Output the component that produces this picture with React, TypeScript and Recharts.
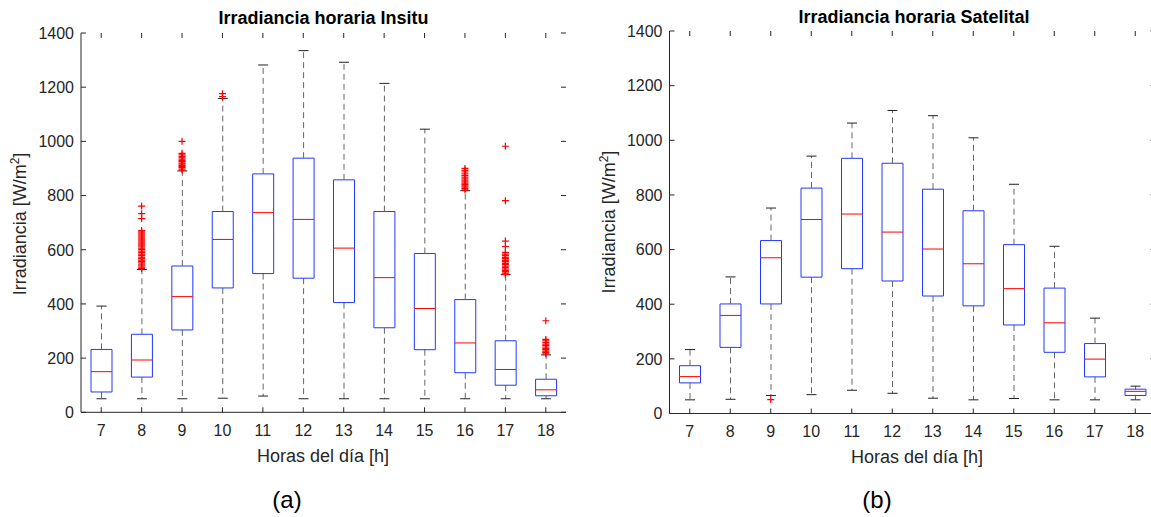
import { Bar, ComposedChart, Line, XAxis, YAxis } from "recharts";

const hours = ["7", "8", "9", "10", "11", "12", "13", "14", "15", "16", "17", "18"];
const yTicks = [0, 200, 400, 600, 800, 1000, 1200, 1400];

// (a) Insitu
const insituMin = [50, 50, 50, 52, 60, 50, 50, 50, 50, 50, 50, 50];
const insituQ1 = [75, 130, 304, 459, 512, 495, 405, 312, 231, 146, 100, 61];
const insituMed = [150, 193, 427, 638, 737, 712, 606, 497, 383, 256, 158, 83];
const insituQ3 = [232, 288, 540, 741, 880, 938, 858, 741, 586, 416, 264, 122];
const insituMax = [392, 527, 891, 1158, 1282, 1335, 1292, 1214, 1045, 818, 508, 212];
const insituOutliers: number[][] = [
  [],
  [531, 536, 541, 547, 552, 557, 562, 568, 573, 579, 584, 590, 595, 601, 606, 611, 617, 622, 628, 633, 639, 644, 650, 655, 661, 666, 671, 715, 733, 761],
  [894, 898, 903, 907, 911, 916, 920, 925, 929, 934, 939, 944, 950, 956, 1000],
  [1165, 1176],
  [],
  [],
  [],
  [],
  [],
  [821, 826, 831, 836, 841, 846, 851, 857, 862, 868, 874, 880, 887, 893, 900],
  [509, 514, 519, 524, 529, 534, 539, 545, 550, 556, 561, 567, 572, 578, 584, 590, 612, 632, 781, 982],
  [216, 221, 226, 231, 236, 241, 247, 252, 258, 264, 269, 338],
];

// (b) Satelital
const satMin = [50, 52, 66, 69, 85, 74, 56, 50, 55, 50, 50, 50];
const satQ1 = [112, 242, 401, 499, 530, 485, 430, 394, 324, 224, 134, 66];
const satMed = [135, 359, 570, 710, 730, 664, 602, 548, 457, 332, 199, 81];
const satQ3 = [175, 401, 633, 825, 934, 916, 821, 742, 618, 459, 256, 89];
const satMax = [234, 500, 752, 942, 1063, 1109, 1090, 1009, 839, 612, 349, 100];
const satOutliers: number[][] = [[], [], [51], [], [], [], [], [], [], [], [], []];

const AXIS = "#262626";
const BOX = "#2038ff";
const MEDIAN = "#ff0000";
const WHISKER = "#666666";
const CAP = "#222222";
const FONT = "'Liberation Sans', Arial, sans-serif";
const N_OUT = Math.max(...insituOutliers.map((o) => o.length), ...satOutliers.map((o) => o.length));

type Row = Record<string, string | number | null>;

function toRows(mins: number[], q1: number[], med: number[], q3: number[], maxs: number[], outs: number[][]) {
  return hours.map((h, i) => {
    const row: Row = {
      h,
      base: mins[i],
      lowW: q1[i] - mins[i],
      boxLo: med[i] - q1[i],
      boxHi: q3[i] - med[i],
      highW: maxs[i] - q3[i],
    };
    for (let k = 0; k < N_OUT; k++) row[`o${k}`] = outs[i][k] ?? null;
    return row;
  });
}

const insituRows = toRows(insituMin, insituQ1, insituMed, insituQ3, insituMax, insituOutliers);
const satRows = toRows(satMin, satQ1, satMed, satQ3, satMax, satOutliers);

function LowWhisker(p: any) {
  const cx = p.x + p.width / 2;
  const bottom = p.y + p.height;
  return (
    <g>
      <line x1={cx} x2={cx} y1={p.y} y2={bottom} stroke={WHISKER} strokeDasharray="6 4" />
      <line x1={cx - 5} x2={cx + 5} y1={bottom} y2={bottom} stroke={CAP} />
    </g>
  );
}

function HighWhisker(p: any) {
  const cx = p.x + p.width / 2;
  return (
    <g>
      <line x1={cx} x2={cx} y1={p.y + p.height} y2={p.y} stroke={WHISKER} strokeDasharray="6 4" />
      <line x1={cx - 5} x2={cx + 5} y1={p.y} y2={p.y} stroke={CAP} />
    </g>
  );
}

// lower half of the box: left, bottom and right edges
function BoxLow(p: any) {
  const r = p.x + p.width;
  const b = p.y + p.height;
  return <path d={`M${p.x},${p.y}V${b}H${r}V${p.y}`} fill="none" stroke={BOX} />;
}

// upper half: left, top and right edges, median in red
function BoxHigh(p: any) {
  const r = p.x + p.width;
  const b = p.y + p.height;
  return (
    <g>
      <path d={`M${p.x},${b}V${p.y}H${r}V${b}`} fill="none" stroke={BOX} />
      <line x1={p.x} x2={r} y1={b} y2={b} stroke={MEDIAN} />
    </g>
  );
}

function plusDot(p: any) {
  const { cx, cy, key } = p;
  if (cy == null || !Number.isFinite(cy)) return <g key={key} />;
  return (
    <path
      key={key}
      d={`M${cx - 3.5},${cy}H${cx + 3.5}M${cx},${cy - 3.5}V${cy + 3.5}`}
      stroke={MEDIAN}
      strokeWidth={1.2}
      fill="none"
    />
  );
}

type Frame = { width: number; height: number; left: number; right: number; top: number; bottom: number };

function BoxPanel({ rows, f }: { rows: Row[]; f: Frame }) {
  const yTick = (p: any) => (
    <g>
      <line x1={f.left} x2={f.left + 5} y1={p.y} y2={p.y} stroke={AXIS} />
      <line x1={f.right - 5} x2={f.right} y1={p.y} y2={p.y} stroke={AXIS} />
      <text x={p.x} y={p.y} dy="0.36em" textAnchor="end" fill={AXIS} fontSize={16} fontFamily={FONT}>
        {p.payload.value}
      </text>
    </g>
  );
  const xTick = (p: any) => (
    <g>
      <line x1={p.x} x2={p.x} y1={f.bottom - 5} y2={f.bottom} stroke={AXIS} />
      <line x1={p.x} x2={p.x} y1={f.top} y2={f.top + 5} stroke={AXIS} />
      <text x={p.x} y={p.y} dy="0.71em" textAnchor="middle" fill={AXIS} fontSize={16} fontFamily={FONT}>
        {p.payload.value}
      </text>
    </g>
  );

  return (
    <ComposedChart
      width={f.width}
      height={f.height}
      data={rows}
      barSize={21}
      margin={{ top: f.top, right: f.width - f.right, left: 0, bottom: 0 }}
    >
      <XAxis
        dataKey="h"
        height={f.height - f.bottom}
        interval={0}
        tick={xTick}
        tickLine={false}
        tickSize={0}
        tickMargin={12.5}
        axisLine={{ stroke: AXIS }}
      />
      <XAxis xAxisId="top" dataKey="h" orientation="top" height={0} tick={false} tickLine={false} axisLine={{ stroke: AXIS }} />
      <YAxis
        domain={[0, 1400]}
        ticks={yTicks}
        width={f.left}
        tick={yTick}
        tickLine={false}
        tickSize={0}
        tickMargin={7}
        axisLine={{ stroke: AXIS }}
      />
      <YAxis yAxisId="r" orientation="right" width={0} domain={[0, 1400]} tick={false} tickLine={false} axisLine={{ stroke: AXIS }} />
      <Bar dataKey="base" stackId="box" fill="none" shape={() => <g />} isAnimationActive={false} />
      <Bar dataKey="lowW" stackId="box" shape={LowWhisker} isAnimationActive={false} />
      <Bar dataKey="boxLo" stackId="box" shape={BoxLow} isAnimationActive={false} />
      <Bar dataKey="boxHi" stackId="box" shape={BoxHigh} isAnimationActive={false} />
      <Bar dataKey="highW" stackId="box" shape={HighWhisker} isAnimationActive={false} />
      {Array.from({ length: N_OUT }, (_, k) => (
        <Line
          key={k}
          dataKey={`o${k}`}
          stroke="none"
          dot={plusDot}
          activeDot={false}
          legendType="none"
          isAnimationActive={false}
        />
      ))}
    </ComposedChart>
  );
}

const leftFrame: Frame = { width: 580, height: 480, left: 81, right: 566, top: 33, bottom: 412.3 };
const rightFrame: Frame = { width: 580, height: 480, left: 89.5, right: 575.5, top: 31, bottom: 413.5 };

function YLabel({ x, y }: { x: number; y: number }) {
  return (
    <text x={x} y={y} transform={`rotate(-90 ${x} ${y})`} textAnchor="middle" fill={AXIS} fontSize={18} fontFamily={FONT}>
      Irradiancia [W/m
      <tspan dy={-7} fontSize={12}>2</tspan>
      <tspan dy={7}>]</tspan>
    </text>
  );
}

export default function App() {
  return (
    <div style={{ position: "absolute", left: 0, top: 0, width: 1151, height: 517, overflow: "hidden", background: "#fff" }}>
      <svg width={1151} height={517} style={{ position: "absolute", left: 0, top: 0 }}>
        <text x={323.5} y={23.5} textAnchor="middle" fontWeight="bold" fontSize={18} fontFamily={FONT} fill="#000">
          Irradiancia horaria Insitu
        </text>
        <text x={914} y={23} textAnchor="middle" fontWeight="bold" fontSize={18} fontFamily={FONT} fill="#000">
          Irradiancia horaria Satelital
        </text>
        <YLabel x={26} y={224} />
        <YLabel x={614.5} y={222} />
        <text x={323} y={462} textAnchor="middle" fontSize={18} fontFamily={FONT} fill={AXIS}>
          Horas del día [h]
        </text>
        <text x={917} y={463} textAnchor="middle" fontSize={18} fontFamily={FONT} fill={AXIS}>
          Horas del día [h]
        </text>
        <text x={287} y={508} textAnchor="middle" fontSize={24} fontFamily={FONT} fill="#000">
          (a)
        </text>
        <text x={877} y={508} textAnchor="middle" fontSize={24} fontFamily={FONT} fill="#000">
          (b)
        </text>
      </svg>
      <div style={{ position: "absolute", left: 0, top: 0 }}>
        <BoxPanel rows={insituRows} f={leftFrame} />
      </div>
      <div style={{ position: "absolute", left: 580, top: 0 }}>
        <BoxPanel rows={satRows} f={rightFrame} />
      </div>
    </div>
  );
}
